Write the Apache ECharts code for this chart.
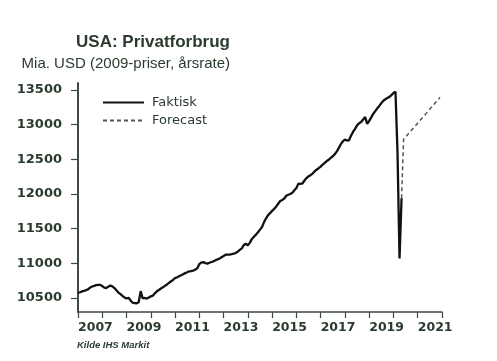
<!DOCTYPE html>
<html><head><meta charset="utf-8">
<script src="https://cdn.jsdelivr.net/npm/echarts@6/dist/echarts.min.js"></script>
<style>html,body{margin:0;padding:0;background:#fff}#c{width:497px;height:361px}</style>
</head><body><div id="c"></div>
<script>
// ---- data ----
const titleText = 'USA: Privatforbrug';
const subtitleText = 'Mia. USD (2009-priser, årsrate)';
const sourceText = 'Kilde IHS Markit';
const seriesNames = ['Faktisk', 'Forecast'];
const actualStartYear = 2007;
const actualStartMonth = 1;
const actual = [
  10575,10585,10597,10605,10615,10628,10652,10667,10677,10687,10692,10690,
  10673,10650,10645,10665,10682,10670,10645,10612,10580,10556,10531,10510,
  10495,10505,10465,10434,10428,10426,10440,10600,10495,10502,10493,10510,
  10525,10535,10570,10598,10618,10638,10655,10677,10697,10720,10743,10762,
  10790,10800,10815,10829,10845,10860,10872,10886,10890,10897,10910,10930,
  10990,11013,11018,11005,10998,11010,11020,11030,11045,11058,11072,11090,
  11108,11125,11126,11127,11133,11140,11150,11170,11195,11216,11265,11285,
  11260,11300,11353,11385,11415,11450,11487,11525,11595,11650,11697,11725,
  11757,11785,11820,11860,11900,11915,11935,11975,11990,12000,12020,12055,
  12088,12150,12145,12152,12195,12230,12255,12272,12295,12325,12350,12372,
  12395,12425,12450,12475,12495,12520,12545,12575,12615,12665,12720,12760,
  12786,12770,12775,12840,12895,12940,12990,13020,13038,13075,13110,13010,
  13055,13105,13157,13195,13235,13270,13310,13345,13365,13385,13400,13425,
  13455,13475,12600,11070,11940
];
const forecastMonths = ['2020-05', '2020-06', '2021-12'];
const forecast = [11940, 12790, 13390];
const yTickValues = [10500, 11000, 11500, 12000, 12500, 13000, 13500];
const xLabelYears = [2007, 2009, 2011, 2013, 2015, 2017, 2019, 2021];

// ---- build ----
const toDecYear = (y, m) => y + (m - 1) / 12;
const actualData = actual.map((v, i) => [toDecYear(actualStartYear, actualStartMonth + i), v]);
const forecastData = forecastMonths.map((s, i) => {
  const [y, m] = s.split('-').map(Number);
  return [toDecYear(y, m), forecast[i]];
});

const textColor = '#2b3b2e';
const axisColor = '#3d4b3f';

const chart = echarts.init(document.getElementById('c'), null, { renderer: 'canvas' });
chart.setOption({
  animation: false,
  backgroundColor: '#ffffff',
  title: [
    { text: titleText, right: 267, top: 34, padding: 0,
      textStyle: { fontFamily: 'Liberation Sans', fontWeight: 'bold', fontSize: 17, color: textColor } },
    { text: subtitleText, right: 267, top: 56, padding: 0,
      textStyle: { fontFamily: 'Liberation Sans', fontWeight: 'normal', fontSize: 15, color: textColor } },
    { text: sourceText, left: 77, top: 340, padding: 0,
      textStyle: { fontFamily: 'Liberation Sans', fontWeight: 'bold', fontStyle: 'italic', fontSize: 9.5, color: textColor } }
  ],
  legend: {
    left: 102, top: 96, orient: 'vertical', padding: 0,
    itemWidth: 41, itemHeight: 14, itemGap: 5,
    data: seriesNames,
    itemStyle: { opacity: 0, borderWidth: 0 },
    textStyle: { fontFamily: 'DejaVu Sans', fontSize: 13, color: textColor, padding: [0, 0, 0, 3] }
  },
  grid: { left: 78, right: 55, top: 83, bottom: 49, containLabel: false },
  xAxis: {
    type: 'value', min: 2007, max: 2022, interval: 1,
    axisLine: { show: true, lineStyle: { color: axisColor, width: 1.5 } },
    axisTick: { show: true, length: 6, lineStyle: { color: axisColor, width: 1.2 } },
    splitLine: { show: false },
    axisLabel: {
      align: 'left', margin: 9,
      fontFamily: 'DejaVu Sans', fontWeight: 'bold', fontSize: 12.5, color: textColor,
      formatter: v => (xLabelYears.indexOf(Math.round(v)) >= 0 ? String(Math.round(v)) : '')
    }
  },
  yAxis: {
    type: 'value', min: 10300, max: 13600,
    axisLine: { show: true, lineStyle: { color: axisColor, width: 2 } },
    axisTick: { show: true, length: 7, customValues: yTickValues, lineStyle: { color: axisColor, width: 1.2 } },
    splitLine: { show: false },
    axisLabel: {
      customValues: yTickValues, margin: 16,
      fontFamily: 'DejaVu Sans', fontWeight: 'bold', fontSize: 13, color: textColor,
      formatter: v => String(v)
    }
  },
  series: [
    { name: seriesNames[0], type: 'line', data: actualData, symbol: 'none',
      lineStyle: { color: '#111111', width: 2.3 }, itemStyle: { color: '#111111' }, z: 3 },
    { name: seriesNames[1], type: 'line', data: forecastData, symbol: 'none',
      lineStyle: { color: '#555555', width: 1.5, type: [4, 3] }, itemStyle: { color: '#555555' }, z: 2 }
  ]
});
</script></body></html>
